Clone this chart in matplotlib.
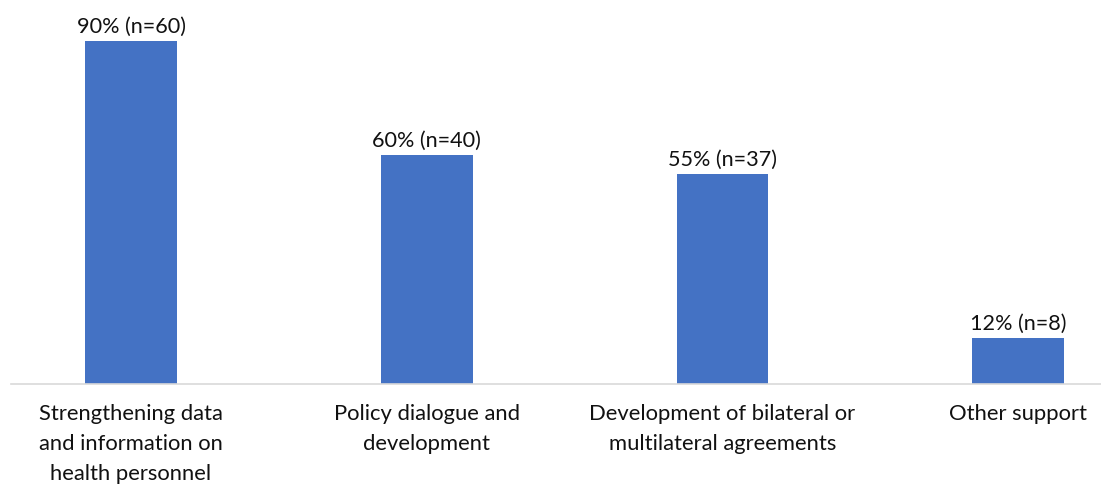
import matplotlib
matplotlib.use("Agg")
import matplotlib.pyplot as plt

categories = [
    "Strengthening data\nand information on\nhealth personnel",
    "Policy dialogue and\ndevelopment",
    "Development of bilateral or\nmultilateral agreements",
    "Other support",
]
percentages = [90, 60, 55, 12]
counts = [60, 40, 37, 8]

plt.rcParams["font.family"] = ["Lato", "DejaVu Sans"]

fig = plt.figure(figsize=(11.01, 4.84), dpi=100)
ax = fig.add_axes([11 / 1101, (484 - 383.5) / 484, 1 - 11 / 1101, 383.5 / 484])

x = list(range(len(categories)))
bars = ax.bar(x, percentages, width=0.311, color="#4472C4", zorder=2)

for xi, p, n in zip(x, percentages, counts):
    ax.annotate(f"{p}% (n={n})", (xi, p), xytext=(0, 3), textcoords="offset points",
                ha="center", va="bottom", fontsize=15.6, color="#111111")

ax.set_xlim(-0.406, 3.28)
ax.set_ylim(0, 100.9)
ax.set_xticks(x)
ax.set_xticklabels(categories, fontsize=15.8, color="#111111", linespacing=1.6)
ax.tick_params(axis="x", length=0, pad=15)
ax.set_yticks([])
for side in ["left", "right", "top"]:
    ax.spines[side].set_visible(False)
ax.spines["bottom"].set_color("#d9d9d9")
ax.spines["bottom"].set_linewidth(1.2)

fig.savefig("out.png", dpi=100)
